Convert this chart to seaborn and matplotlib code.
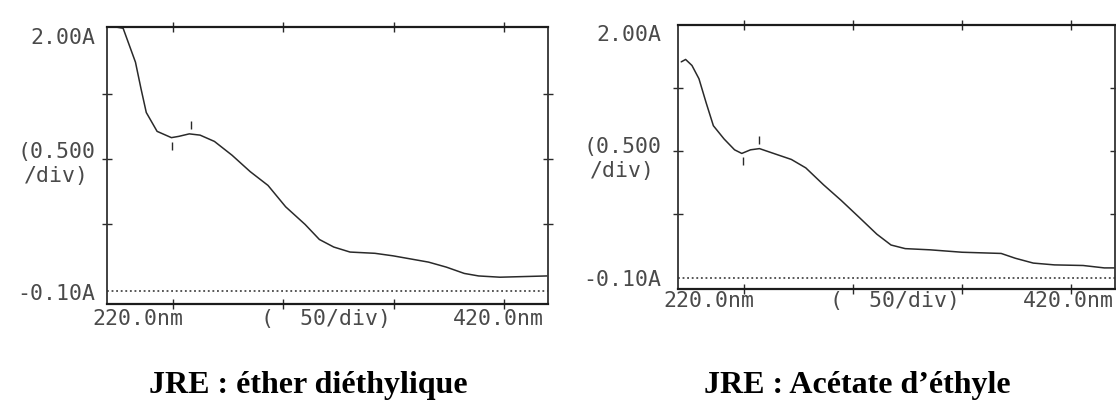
import numpy as np
import pandas as pd
import matplotlib
matplotlib.use("Agg")
import matplotlib.pyplot as plt
import matplotlib.transforms as mtransforms
import seaborn as sns

# UV-visible absorbance (A) against wavelength (nm)
wl_ether = [224.0, 227.3, 232.9, 235.4, 237.8, 242.7, 249.2, 252.5, 257.3, 262.2,
            268.7, 276.7, 284.9, 293.0, 301.0, 309.8, 316.3, 322.8, 330.2, 341.5,
            349.7, 365.8, 373.9, 382.0, 388.5, 398.2, 419.5]
abs_ether = [2.00, 1.99, 1.72, 1.51, 1.32, 1.17, 1.12, 1.13, 1.15, 1.14,
             1.09, 0.98, 0.85, 0.74, 0.57, 0.43, 0.31, 0.25, 0.21, 0.20,
             0.18, 0.13, 0.09, 0.04, 0.02, 0.01, 0.02]

wl_acetate = [221.5, 223.5, 226.4, 229.6, 232.9, 236.2, 241.1, 245.9, 249.2, 253.2,
              257.3, 265.4, 271.9, 278.5, 286.6, 294.7, 302.9, 311.0, 317.5, 324.0,
              335.4, 350.0, 367.9, 374.4, 382.6, 392.3, 405.4, 415.1, 419.7]
abs_acetate = [1.69, 1.71, 1.66, 1.55, 1.35, 1.16, 1.05, 0.96, 0.93, 0.96,
               0.97, 0.92, 0.88, 0.81, 0.67, 0.54, 0.40, 0.26, 0.17, 0.14,
               0.13, 0.11, 0.10, 0.06, 0.02, 0.005, 0.00, -0.02, -0.02]

# valley / peak wavelengths flagged by the instrument
marks_ether = [249.6, 258.0]
marks_acetate = [249.7, 257.0]

x_range = [220.0, 420.0]
x_ticks = [250, 300, 350, 400]
y_ticks = [0.43, 0.95, 1.47]
baseline = -0.10
y_top = 2.00

y_labels = ["2.00A", "(0.500\n/div)", "-0.10A"]
x_labels = ["220.0nm", "(  50/div)", "420.0nm"]
captions = ["JRE : éther diéthylique", "JRE : Acétate d\u2019éthyle"]

sns.set_theme(style="white")
plt.rcParams["font.family"] = ["DejaVu Sans Mono"]

INK = "#2a2a2a"
TXT = "#4a4a4a"
FS = 15.5

fig = plt.figure(figsize=(11.16, 4.03), dpi=100)
fig.patch.set_facecolor("white")

panels = [
    dict(rect=[0.0959, 0.2457, 0.3952, 0.6873], ylo=-0.203, wl=wl_ether,
         ab=abs_ether, marks=marks_ether, gap=8.5, xlab_y=-0.054,
         ylab_pos=[1.91, 0.91, -0.12], xlab_pos=[213.5, 319.5, 418.0],
         cap_x=308 / 1116),
    dict(rect=[0.6075, 0.2829, 0.3916, 0.6563], ylo=-0.195, wl=wl_acetate,
         ab=abs_acetate, marks=marks_acetate, gap=12.0, xlab_y=-0.045,
         ylab_pos=[1.91, 0.88, -0.12], xlab_pos=[213.5, 319.5, 419.5],
         cap_x=857 / 1116),
]

for p, cap in zip(panels, captions):
    ax = fig.add_axes(p["rect"])
    ax.set_facecolor("white")
    df = pd.DataFrame({"nm": p["wl"], "A": p["ab"]})
    sns.lineplot(data=df, x="nm", y="A", ax=ax, color=INK, lw=1.1,
                 estimator=None, sort=False)
    ax.axhline(baseline, color=INK, lw=1.1, ls=(0, (1.2, 1.8)))

    # short vertical flags below the valley and above the peak
    y_marks = np.interp(p["marks"], p["wl"], p["ab"])
    ax.plot(p["marks"][0], y_marks[0] - 0.07, marker="|", ms=6, mew=1.0, color=INK)
    ax.plot(p["marks"][1], y_marks[1] + 0.07, marker="|", ms=6, mew=1.0, color=INK)

    ax.set_xlim(*x_range)
    ax.set_ylim(p["ylo"], y_top)
    ax.set_xticks(x_ticks)
    ax.set_yticks(y_ticks)
    ax.set_xlabel("")
    ax.set_ylabel("")
    ax.tick_params(direction="inout", length=7, width=1.0, color=INK,
                   top=True, right=True, bottom=True, left=True,
                   labelbottom=False, labelleft=False)
    for side in ["top", "bottom"]:
        ax.spines[side].set_linewidth(1.6)
        ax.spines[side].set_color("#1c1c1c")
    for side in ["left", "right"]:
        ax.spines[side].set_linewidth(1.3)
        ax.spines[side].set_color("#333333")
        ax.spines[side].set_linestyle((0, (3, 1)))
        ax.spines[side].set_visible(True)

    ytr = mtransforms.blended_transform_factory(ax.transAxes, ax.transData)
    for txt, yv in zip(y_labels, p["ylab_pos"]):
        ax.annotate(txt, xy=(0, yv), xycoords=ytr, xytext=(-p["gap"], 0),
                    textcoords="offset points", ha="right", va="center",
                    multialignment="center", linespacing=1.25,
                    fontsize=FS, color=TXT)

    xtr = mtransforms.blended_transform_factory(ax.transData, ax.transAxes)
    for txt, xv, ha in zip(x_labels, p["xlab_pos"], ["left", "center", "right"]):
        ax.text(xv, p["xlab_y"], txt, transform=xtr, ha=ha, va="center",
                fontsize=FS, color=TXT)

    fig.text(p["cap_x"], 1 - 386 / 403, cap, ha="center", va="center",
             fontsize=23, fontweight="bold", family="Liberation Serif",
             color="black")

fig.savefig("out.png", dpi=100, facecolor="white")
